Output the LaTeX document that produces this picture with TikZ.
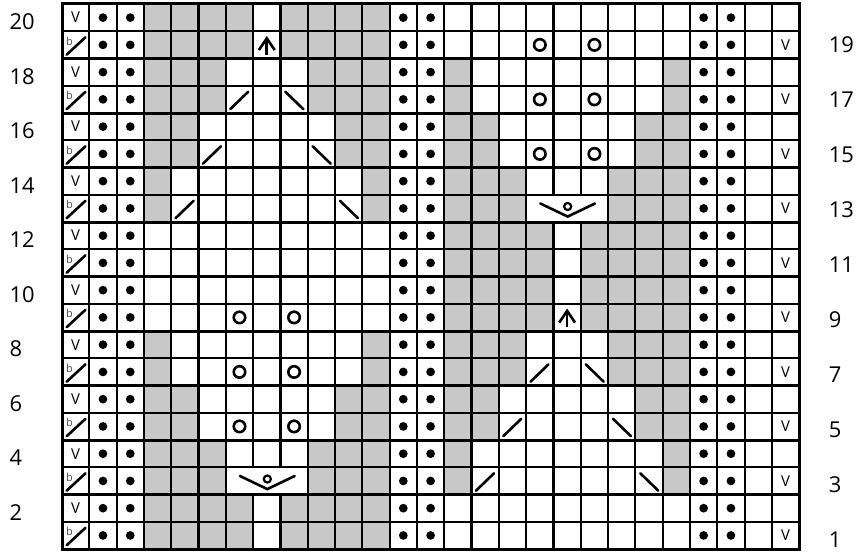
\documentclass[tikz,border=0pt]{standalone}
\usepackage{fontspec}
\setmainfont{Open Sans}
\usepackage{tikz}
\usetikzlibrary{calc}

\definecolor{chartgray}{RGB}{200,200,200}

\begin{document}
\begin{tikzpicture}[
  x=27.3bp, y=27.25bp,
  thin grid/.style={line width=2.2bp},
  pair grid/.style={line width=3bp},
  frame/.style={line width=3bp},
  shade/.style={fill=chartgray},
  purl/.style={fill=black},
  yarnover/.style={line width=2.6bp},
  dec/.style={line width=2.6bp, line cap=round},
  slip/.style={inner sep=0pt, font=\fontsize{15}{15}\selectfont},
  tbl/.style={inner sep=0pt, font=\fontsize{11}{11}\selectfont, text=black!70},
  rowno/.style={inner sep=0pt, anchor=west, font=\fontsize{22}{22}\selectfont},
]

\useasboundingbox (-2.271,-0.11) rectangle (29.19,20.147);

% ===== shaded (no stitch) cells: panel A, panel B is A moved 11 cols / 10 rows =====
\foreach \row/\ca/\cb in {20/4/7, 20/9/12, 19/4/7, 19/9/12, 18/4/6, 18/10/12,
    17/4/6, 17/10/12, 16/4/5, 16/11/12, 15/4/5, 15/11/12, 14/4/4, 14/12/12,
    13/4/4, 13/12/12, 8/4/4, 8/12/12, 7/4/4, 7/12/12, 6/4/5, 6/11/12,
    5/4/5, 5/11/12, 4/4/6, 4/10/12, 3/4/6, 3/10/12, 2/4/7, 2/9/12, 1/4/7, 1/9/12} {
  \pgfmathtruncatemacro\rowb{mod(\row+9,20)+1}
  \fill[shade] (\ca-1,\row-1) rectangle (\cb,\row);
  \fill[shade] (\ca+10,\rowb-1) rectangle (\cb+11,\rowb);
}

% ===== grid =====
\foreach \y in {1,3,...,19} \draw[thin grid] (0,\y) -- (27,\y);
\foreach \y in {2,4,...,18} \draw[pair grid] (0,\y) -- (27,\y);
\foreach \x in {1,2,3,4,5,6,9,10,11,12,13,14,15,16,17,20,21,22,23,24,25,26}
  \draw[thin grid] (\x,0) -- (\x,20);
% merged cells (row 3 in A, row 13 in B)
\foreach \x in {7,8} {
  \draw[thin grid] (\x,0) -- (\x,2);
  \draw[thin grid] (\x,3) -- (\x,20);
}
\foreach \x in {18,19} {
  \draw[thin grid] (\x,0) -- (\x,12);
  \draw[thin grid] (\x,13) -- (\x,20);
}
\draw[frame] (0,0) rectangle (27,20);

% ===== purl columns =====
\foreach \c in {2,3,13,14,24,25}
  \foreach \row in {1,...,20}
    \fill[purl] (\c-0.5,\row-0.5) circle[radius=0.16];

% ===== edge stitches =====
\foreach \row in {2,4,...,20}
  \node[slip] (sl-\row) at (0.5,\row-0.5) {V};
\foreach \row in {1,3,...,19}
  \node[slip] (sr-\row) at (26.5,\row-0.5) {V};
\foreach \row in {1,3,...,19} {
  \draw[dec] (0.17,\row-0.86) -- (0.86,\row-0.22);
  \node[tbl] (tb-\row) at (0.27,\row-0.36) {b};
}

% ===== yarn overs =====
\foreach \c/\row in {7/9, 9/9, 7/7, 9/7, 7/5, 9/5, 18/19, 20/19, 18/17, 20/17, 18/15, 20/15}
  \draw[yarnover] (\c-0.5,\row-0.5) circle[radius=0.21];

% ===== decreases =====
\foreach \c/\row in {7/17, 6/15, 5/13, 18/7, 17/5, 16/3}
  \draw[dec] (\c-0.84,\row-0.86) -- (\c-0.18,\row-0.22);
\foreach \c/\row in {9/17, 10/15, 11/13, 20/7, 21/5, 22/3}
  \draw[dec] (\c-0.82,\row-0.22) -- (\c-0.16,\row-0.86);

% central double decrease
\foreach \c/\row in {8/19, 19/9} {
  \draw[dec, line cap=butt] (\c-0.5,\row-0.87) -- (\c-0.5,\row-0.3);
  \draw[dec, line cap=butt, miter limit=10] (\c-0.79,\row-0.69) -- (\c-0.5,\row-0.26) -- (\c-0.21,\row-0.69);
}

% wide decrease with yarn over (merged 3 cells)
\foreach \x/\y in {6/2, 17/12} {
  \draw[dec] (\x+0.52,\y+0.68) -- (\x+1.52,\y+0.2) -- (\x+2.52,\y+0.68);
  \draw[yarnover, line width=2.2bp] (\x+1.52,\y+0.57) circle[radius=0.13];
}

% ===== row numbers =====
\foreach \row in {2,4,...,20}
  \node[rowno] (lab-\row) at (-1.93,\row-0.66) {\row};
\foreach \row in {1,3,...,19} {
  \pgfmathsetmacro\yy{\row-0.5-(19-\row)*0.009}
  \node[rowno] (lab-\row) at (28.08,\yy) {\row};
}

\end{tikzpicture}
\end{document}
